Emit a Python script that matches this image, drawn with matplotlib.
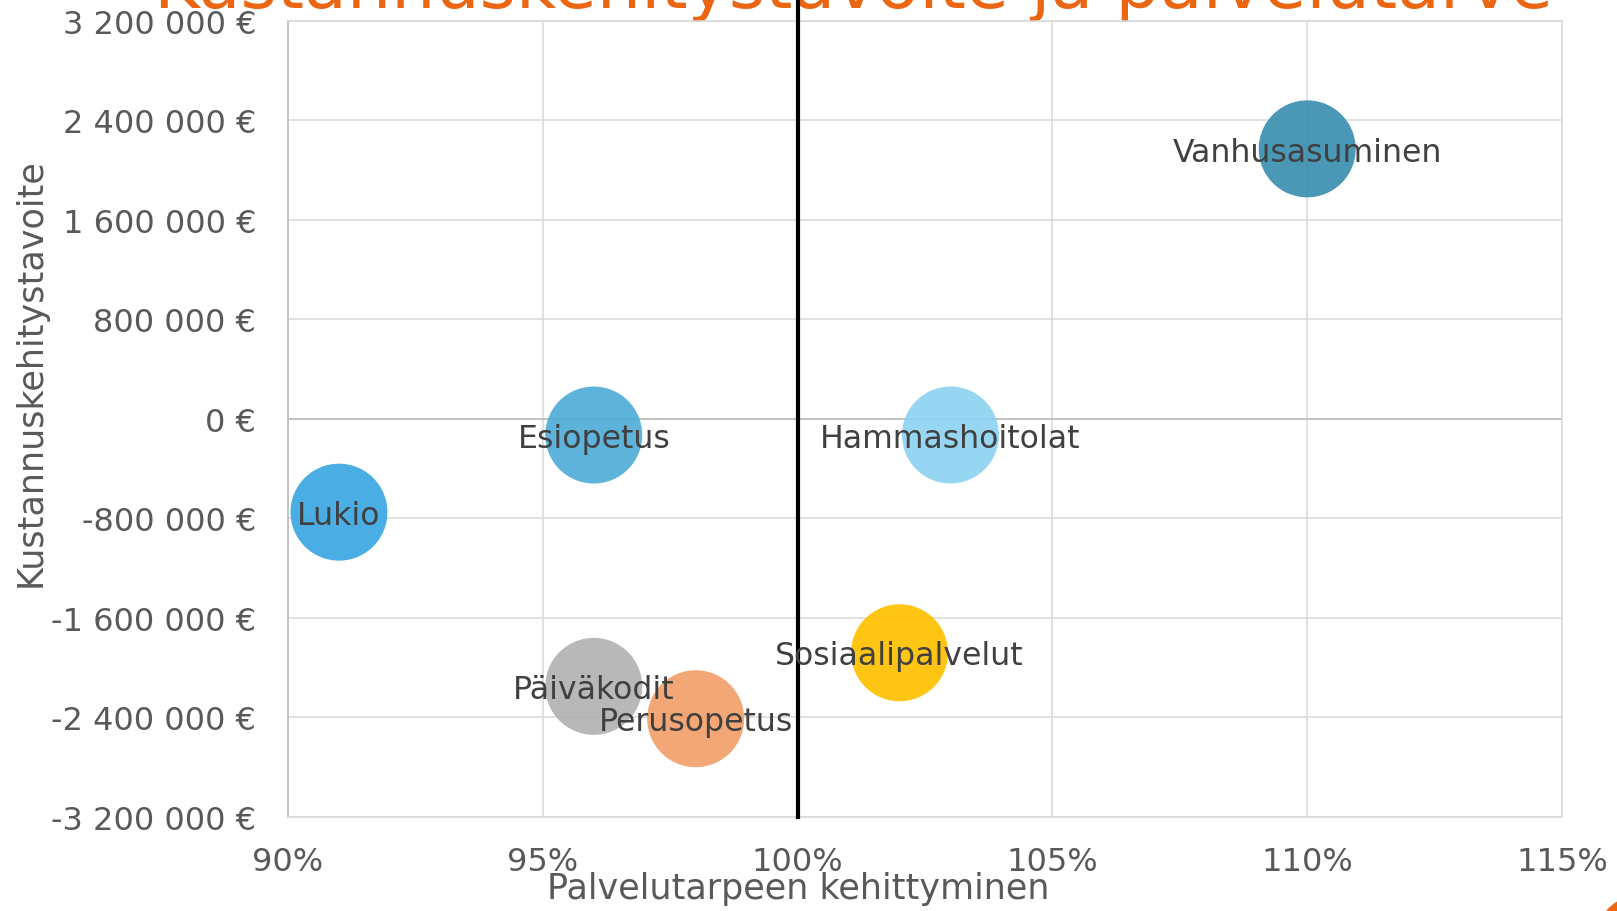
import matplotlib
matplotlib.use('Agg')
import matplotlib.pyplot as plt
from matplotlib.patches import Ellipse

# ---- data ----
categories = ['Vanhusasuminen', 'Hammashoitolat', 'Esiopetus', 'Lukio',
              'Sosiaalipalvelut', 'Päiväkodit', 'Perusopetus']
x_values = [1.10, 1.03, 0.96, 0.91, 1.02, 0.96, 0.98]
y_values = [2170000, -130000, -130000, -750000, -1880000, -2150000, -2410000]
colors = ['#3A8FB0', '#8DD3F1', '#4FADD6', '#3AA7E3', '#FFC000', '#B2B2B2', '#F4A06A']

yticks = [-3200000, -2400000, -1600000, -800000, 0, 800000, 1600000, 2400000, 3200000]
ytick_labels = ['-3 200 000 €', '-2 400 000 €', '-1 600 000 €', '-800 000 €', '0 €',
                '800 000 €', '1 600 000 €', '2 400 000 €', '3 200 000 €']
xticks = [0.90, 0.95, 1.00, 1.05, 1.10, 1.15]
xtick_labels = ['90%', '95%', '100%', '105%', '110%', '115%']

title = 'Kustannuskehitystavoite ja palvelutarve'
xlabel = 'Palvelutarpeen kehittyminen'
ylabel = 'Kustannuskehitystavoite'

W, H = 1617, 912
fig = plt.figure(figsize=(W / 100, H / 100), dpi=100)
ax = fig.add_axes([288 / W, 1 - 818 / H, (1562 - 288) / W, (818 - 21.7) / H])
ax.set_facecolor('none')

ax.set_xlim(0.90, 1.15)
ax.set_ylim(-3200000, 3200000)
ax.set_xticks(xticks)
ax.set_xticklabels(xtick_labels)
ax.set_yticks(yticks)
ax.set_yticklabels(ytick_labels)
ax.tick_params(axis='both', length=0, labelsize=23, labelcolor='#595959')
ax.tick_params(axis='x', pad=21)
ax.tick_params(axis='y', pad=23)

ax.grid(True, color='#D9D9D9', linewidth=1.1, zorder=0)
ax.set_axisbelow(True)
for side in ['top', 'right', 'bottom']:
    ax.spines[side].set_color('#D9D9D9')
    ax.spines[side].set_linewidth(1.1)
ax.spines['left'].set_color('#BFBFBF')
ax.spines['left'].set_linewidth(1.3)
ax.axhline(0, color='#BFBFBF', linewidth=1.3, zorder=1)

# bubbles
ax.scatter(x_values, y_values, s=4875, c=colors, alpha=0.92, edgecolors='none', zorder=3)
for name, xv, yv in zip(categories, x_values, y_values):
    ax.annotate(name, (xv, yv), xytext=(0, -2.3), textcoords='offset points',
                ha='center', va='center', fontsize=22.7, color='#404040', zorder=5)

# vertical reference line at 100 %
ax.plot([1.0, 1.0], [-3200000, 3600000], color='black', linewidth=3, clip_on=False, zorder=4)

# axis titles
fig.text(798 / W, 1 - 889 / H, xlabel, ha='center', va='center', fontsize=25.2, color='#595959')
fig.text(31 / W, 1 - 373 / H, ylabel, ha='center', va='center', rotation=90,
         fontsize=25.2, color='#595959')

# clipped slide title
fig.text(853 / W, 1 - 8 / H, title, ha='center', va='baseline', fontsize=50.2,
         color='#EB6612', zorder=-1)

# decorative circle in the corner
fig.patches.append(Ellipse((1640 / W, 1 - 940 / H), 88 / W, 88 / H, transform=fig.transFigure,
                           facecolor='#EB6612', edgecolor='none'))

fig.savefig('out.png', dpi=100)
